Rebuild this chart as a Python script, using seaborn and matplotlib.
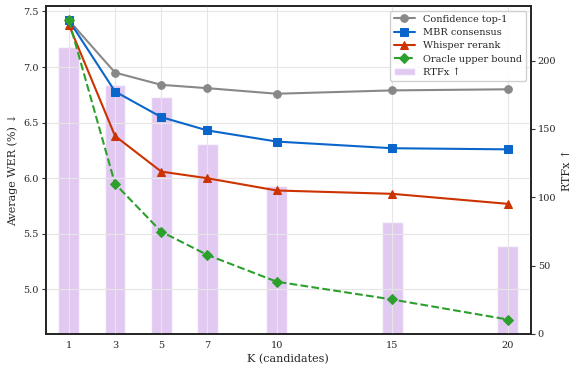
import matplotlib
matplotlib.use("Agg")
import matplotlib.pyplot as plt
import seaborn as sns
import pandas as pd

K = [1, 3, 5, 7, 10, 15, 20]
conf_top1 = [7.42, 6.95, 6.84, 6.81, 6.76, 6.79, 6.80]
mbr = [7.42, 6.78, 6.55, 6.43, 6.33, 6.27, 6.26]
whisper = [7.38, 6.38, 6.06, 6.00, 5.89, 5.86, 5.77]
oracle = [7.42, 5.95, 5.52, 5.31, 5.07, 4.91, 4.73]
rtfx = [210, 182, 173, 139, 108, 82, 64]

sns.set_style("whitegrid")
plt.rcParams['font.family'] = ['DejaVu Serif']

fig = plt.figure(figsize=(5.72, 3.67), dpi=100)
ax = fig.add_axes([0.08, 0.09, 0.848, 0.894])
ax2 = ax.twinx()

ax2.bar(K, rtfx, width=0.9, color="#cfa6ea", alpha=0.6, label="RTFx ↑", zorder=1)
ax2.set_ylim(0, 240)
ax2.set_yticks([0, 50, 100, 150, 200])
ax2.grid(False)
ax2.set_ylabel("RTFx ↑", fontsize=8)
ax2.yaxis.set_label_coords(1.064, 0.5)

series = [
    ("Confidence top-1", conf_top1, "#888888", "o", "-"),
    ("MBR consensus", mbr, "#0b66cc", "s", "-"),
    ("Whisper rerank", whisper, "#cc3300", "^", "-"),
    ("Oracle upper bound", oracle, "#2ca02c", "D", "--"),
]
for name, vals, col, mk, ls in series:
    df = pd.DataFrame({"K": K, "WER": vals})
    sns.lineplot(data=df, x="K", y="WER", ax=ax, color=col, marker=mk,
                 linestyle=ls, linewidth=1.5, markersize=5.5,
                 markeredgecolor=col, label=name)

ax.set_zorder(ax2.get_zorder() + 1)
ax.patch.set_visible(False)

ax.set_xlim(0, 21)
ax.set_ylim(4.6, 7.55)
ax.set_xticks(K)
ax.set_yticks([5.0, 5.5, 6.0, 6.5, 7.0, 7.5])
ax.set_xlabel("K (candidates)", fontsize=8, labelpad=3)
ax.set_ylabel("Average WER (%) ↓", fontsize=8, labelpad=4)
ax.grid(True, color="#e6e6e6", linewidth=0.8)
ax.tick_params(labelsize=7, length=3, pad=2, color="#333333")
ax2.tick_params(labelsize=7, length=3, pad=2, color="#333333")
for a in (ax, ax2):
    for s in a.spines.values():
        s.set_color("#222222")
        s.set_linewidth(1.2)

h1, l1 = ax.get_legend_handles_labels()
h2, l2 = ax2.get_legend_handles_labels()
ax.legend(h1 + h2, l1 + l2, loc="upper right", fontsize=7, frameon=True,
          framealpha=0.9, borderpad=0.4, labelspacing=0.45, handlelength=2.2)

fig.savefig("out.png", dpi=100)
